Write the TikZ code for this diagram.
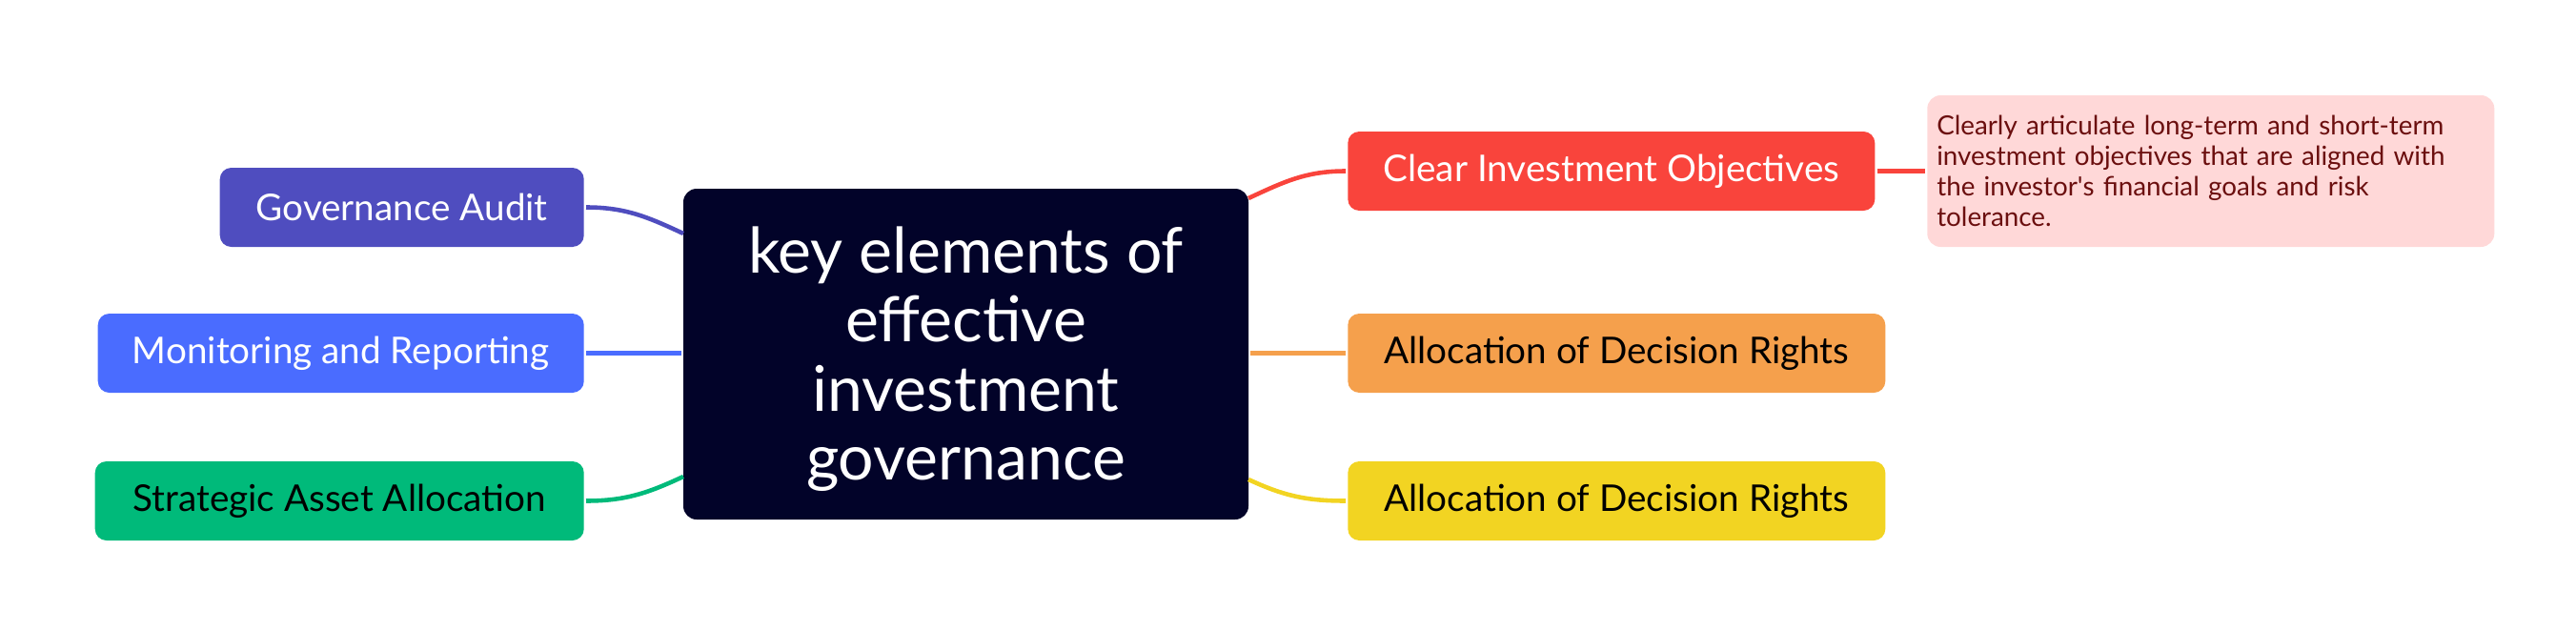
\documentclass[tikz,border=0pt]{standalone}
\usepackage{fontspec}
\setmainfont{Lato}
\usepackage{tikz}
\usetikzlibrary{positioning}
\definecolor{hubcol}{RGB}{2,3,41}
\definecolor{auditcol}{RGB}{79,77,191}
\definecolor{monicol}{RGB}{74,108,255}
\definecolor{assetcol}{RGB}{0,186,122}
\definecolor{objcol}{RGB}{249,68,60}
\definecolor{rightcol}{RGB}{245,160,76}
\definecolor{rightbcol}{RGB}{242,212,34}
\definecolor{notecol}{RGB}{255,216,216}
\definecolor{notetext}{RGB}{107,15,15}

\begin{document}
\begin{tikzpicture}[line width=1.3pt
  ,every edge/.style={draw,line width=1.3pt}]
  \tikzstyle{branch}=[rounded corners=0.12cm,minimum height=0.83cm
  ,inner sep=0pt,font=\fontsize{11pt}{13pt}\selectfont]
  \useasboundingbox (0,0) rectangle (27.03,-6.61);

  \node[fill=hubcol,text=white,rounded corners=0.14cm
  ,minimum width=5.93cm,minimum height=3.47cm,align=center
  ,font=\fontsize{18.8pt}{20.5pt}\selectfont] (hub) at (10.135,-3.715)
  {\rule{0pt}{16.8pt}key elements of\\effective\\investment\\governance};

  % left side
  \node[branch,fill=auditcol,text=white,minimum width=3.82cm
  ,anchor=east] (audit) at (6.15,-2.175) {Governance Audit};
  \node[branch,fill=monicol,text=white,minimum width=5.10cm
  ,anchor=east] (moni) at (6.15,-3.705) {Monitoring and Reporting};
  \node[branch,fill=assetcol,text=black,minimum width=5.13cm
  ,anchor=east] (asset) at (6.15,-5.255) {Strategic Asset Allocation};

  % right side
  \node[branch,fill=objcol,text=white,minimum width=5.53cm
  ,anchor=west] (obj) at (14.12,-1.795) {Clear Investment Objectives};
  \node[branch,fill=rightcol,text=black,minimum width=5.64cm
  ,anchor=west] (rights) at (14.12,-3.705) {Allocation of Decision Rights};
  \node[branch,fill=rightbcol,text=black,minimum width=5.64cm
  ,anchor=west] (rightsb) at (14.12,-5.255) {Allocation of Decision Rights};

  \node[fill=notecol,text=notetext,rounded corners=0.14cm
  ,minimum height=1.59cm,text width=5.75cm,inner xsep=0.10cm,align=left
  ,font=\fontsize{7.9pt}{9.1pt}\selectfont
  ,anchor=west] (note) at (20.20,-1.795)
  {Clearly articulate long-term and short-term\\investment objectives that are aligned with\\the investor\textquotesingle s financial goals and risk\\tolerance.};

  \coordinate (hubaudit) at (7.17,-2.45);
  \coordinate (hubasset) at (7.17,-5.00);
  \coordinate (hubobj) at (13.10,-2.08);
  \coordinate (hubrightsb) at (13.10,-5.03);

  \path
  (audit.east) edge [auditcol,out=0,in=155] (hubaudit)
  (moni.east) edge [monicol] (hub.west |- moni.east)
  (asset.east) edge [assetcol,out=0,in=205] (hubasset)
  (obj.west) edge [objcol,out=180,in=25] (hubobj)
  (rights.west) edge [rightcol] (hub.east |- rights.west)
  (rightsb.west) edge [rightbcol,out=180,in=335] (hubrightsb)
  (obj.east) edge [objcol] (note.west)
  ;

\end{tikzpicture}
\end{document}
